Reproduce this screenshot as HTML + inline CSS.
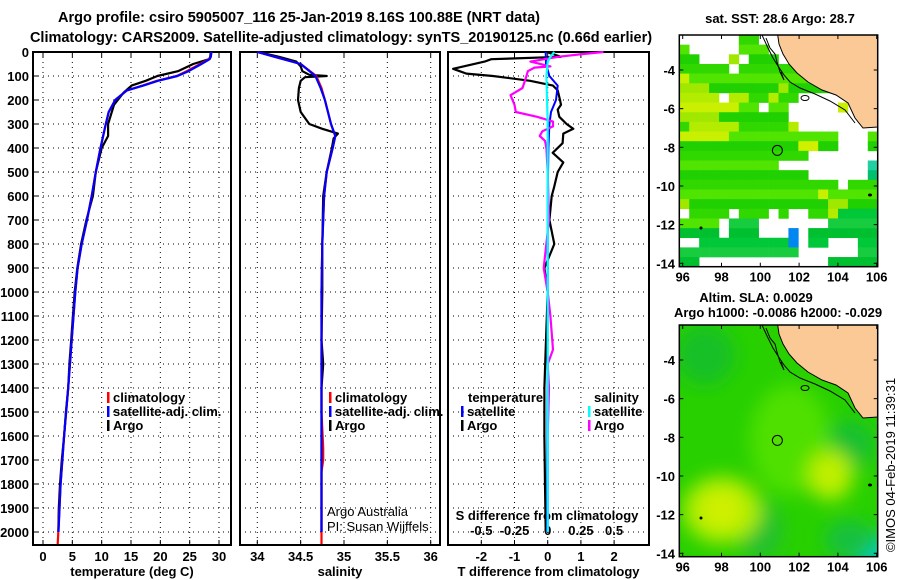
<!DOCTYPE html>
<html><head><meta charset="utf-8"><style>
html,body{margin:0;padding:0;background:#fff}
svg{display:block}
text{font-family:"Liberation Sans",sans-serif;fill:#000}
.b{font-weight:bold;font-size:13px}
.n{font-size:13px}
</style></head><body>
<svg id="fig" width="900" height="580" viewBox="0 0 900 580" xmlns="http://www.w3.org/2000/svg">
<text class="b" x="299" y="22" text-anchor="middle" style="font-size:14.5px">Argo profile: csiro 5905007_116 25-Jan-2019 8.16S 100.88E (NRT data)</text>
<text class="b" x="341" y="42" text-anchor="middle" style="font-size:14.5px">Climatology: CARS2009. Satellite-adjusted climatology: synTS_20190125.nc (0.66d earlier)</text>
<g id="p1"></g>
<g id="p2"></g>
<g id="p3"></g>
<g id="m1"></g>
<g id="m2"></g>
<text class="b" x="780" y="23" text-anchor="middle">sat. SST: 28.6 Argo: 28.7</text>
<text class="b" x="756" y="302" text-anchor="middle">Altim. SLA: 0.0029</text>
<text class="b" x="778" y="317" text-anchor="middle">Argo h1000: -0.0086 h2000: -0.029</text>
<text class="n" transform="translate(895,465) rotate(-90)" text-anchor="middle">©IMOS 04-Feb-2019 11:39:31</text>
<text class="n" x="327" y="516">Argo Australia</text>
<text class="n" x="327" y="531">PI: Susan Wijffels</text>
</svg>
<script>
// ---------- data ----------
const depthTicks=[0,100,200,300,400,500,600,700,800,900,1000,1100,1200,1300,1400,1500,1600,1700,1800,1900,2000];
const tempTicks=[0,5,10,15,20,25,30];
const salTicks=[34,34.5,35,35.5,36];
const salTickLabels=["34","34.5","35","35.5","36"];
const dtTicks=[-2,-1,0,1,2];
const dsTicks=[-0.5,-0.25,0,0.25,0.5];
const dsTickLabels=["-0.5","-0.25","0","0.25","0.5"];

const tArgoDepth=[0,20,30,50,80,100,120,140,170,220,300,350,400,500,600,700,800,900,1000,1100,1200,1300,1400,1500,1600,1700,1800,1900,2000];
const tArgo=[28.6,28.5,28.3,25.6,23.0,19.5,17.5,15.1,13.7,12.1,11.1,11.1,10.0,9.0,8.5,7.4,6.5,5.85,5.4,5.1,4.8,4.5,4.3,3.9,3.6,3.2,2.9,2.7,2.6];
const tClimDepth=[0,20,30,50,80,100,120,140,160,200,250,300,400,500,600,700,800,900,1000,1200,1400,1600,1800,2000,2050];
const tClim=[28.7,28.6,28.3,26.8,24.5,22.8,19.4,17,14.3,12.3,11.2,10.7,9.8,9.0,8.3,7.5,6.6,5.9,5.5,4.9,4.3,3.6,3.0,2.6,2.5];
const tSatDepth=[0,20,30,50,80,100,120,140,160,200,250,300,400,500,600,700,800,900,1000,1200,1400,1600,1800,2000];
const tSat=[28.7,28.6,28.4,27.0,24.8,22.9,19.6,17.1,14.3,12.3,11.2,10.7,9.8,9.0,8.3,7.5,6.6,5.9,5.5,4.9,4.3,3.6,3.0,2.65];

const sArgoDepth=[0,20,40,60,80,95,100,105,120,150,200,250,300,320,340,360,400,500,600,800,1000,1200,1300,1400,1600,2000];
const sArgo=[34.01,34.25,34.45,34.5,34.52,34.6,34.8,34.55,34.5,34.48,34.47,34.5,34.6,34.75,34.93,34.88,34.86,34.8,34.76,34.75,34.75,34.74,34.76,34.74,34.74,34.74];
const sClimDepth=[0,20,50,100,150,200,300,350,400,500,600,800,1000,1500,1650,1700,1750,2000,2050];
const sClim=[34.0,34.2,34.5,34.68,34.74,34.78,34.85,34.9,34.87,34.8,34.77,34.75,34.74,34.74,34.76,34.76,34.74,34.74,34.74];
const sSatDepth=[0,20,50,100,150,200,300,350,400,500,600,800,1000,1500,2000];
const sSat=[34.0,34.2,34.5,34.67,34.73,34.78,34.85,34.9,34.87,34.8,34.77,34.75,34.74,34.74,34.74];

const dTDepth=[0,20,30,40,70,80,90,100,120,140,160,200,220,240,270,300,320,340,380,420,460,500,560,600,700,800,850,900,950,1000,1200,1400,1600,1800,2000];
const dTArgo=[-0.03,0.4,-1.7,-1.9,-2.85,-2.65,-2.45,-1.65,-0.53,0.16,0.3,0.37,0.4,0.3,0.35,0.57,0.77,0.47,0.45,0.15,0.47,0.3,0.2,0.12,0.05,0.2,0.05,-0.1,-0.05,0,-0.05,-0.1,-0.1,-0.08,-0.06];
const dTSatDepth=[0,50,100,140,200,250,300,400,600,1000,2000];
const dTSat=[-0.06,-0.05,0.05,0.3,0.25,0.1,0.05,0.02,0,0,-0.02];
const dSArgoDepth=[0,10,20,40,60,65,80,100,150,180,220,250,270,290,310,330,350,370,400,500,700,900,1000,1100,1240,1300,1400,1600,1800,2000];
const dSArgo=[0.42,0.24,0.08,-0.13,0.02,-0.1,-0.15,-0.16,-0.19,-0.28,-0.25,-0.24,-0.08,0.04,0.04,-0.04,-0.06,-0.02,-0.01,0,0.01,-0.03,0,0.02,0.04,0,0.01,0,0,0];
const dSSatDepth=[0,20,40,100,300,600,1000,2000];
const dSSat=[0.05,0.02,0,-0.01,0,0,0,0];

const latTicks=[-4,-6,-8,-10,-12,-14];
const lonTicks=[96,98,100,102,104,106];
const argoLon=100.88, argoLat=-8.16;
const sstRows=[
"......gg............",
"g.....ggg...........",
"gg...y.ggg..........",
"ggggg.gggggg........",
"ygggggggggggg.......",
"yyygggggggyggggg....",
"yyyy.yyggygg........",
"yyyyyygg.gg.....y...",
"yyyyggggggg.........",
"gyyyyygggggy........",
"yyyyyggggggggggg...g",
"ggggggggggggYYgg...g",
"ggggggggggggg.......",
"gggggggggg.........t",
"ggggggggggggg......t",
"gggggggggggggggg.ggg",
"ggggggggggggggyggggg",
"yggggggggggggggyyggg",
".gggg.ggg.g..ggyGGGG",
"gggg.GGG.......GGGGG",
"GGGG.GGG...B.GGGGGGG",
"..GGGGGGGGGB.GGT..GG",
"GGGGGGGGGGGGTTTTT.GG",
"GGTTTTTTTTTTTTTGGGGG"];

// ---------- helpers ----------
const NS="http://www.w3.org/2000/svg";
function mk(parent,tag,attrs){const e=document.createElementNS(NS,tag);for(const k in attrs)e.setAttribute(k,attrs[k]);parent.appendChild(e);return e;}
const Y0=52, YB=545;
const yD=d=>Y0+d*0.24;
const xT=t=>43+t*5.867;
const xS=s=>257.3+(s-34)*86.7;
const xDT=v=>547.7+v*33.2;
const xDS=v=>547.7+v*132.8;

function panel(g,x0,x1,xticks,xf,labels,xtitle){
  for(const d of depthTicks){const l=mk(g,'line',{x1:x0,x2:x1,y1:yD(d),y2:yD(d),stroke:'#000','stroke-width':1,'stroke-dasharray':'1,4'});
  
  }
  xticks.forEach((v,i)=>{const x=xf(v);
    const l=mk(g,'line',{x1:x,x2:x,y1:Y0,y2:YB,stroke:'#000','stroke-width':1,'stroke-dasharray':'1,4'});
    
    
    mk(g,'line',{x1:x,x2:x,y1:YB-5,y2:YB,stroke:'#000'});
    mk(g,'line',{x1:x,x2:x,y1:Y0,y2:Y0+5,stroke:'#000'});
    if(labels){const t=mk(g,'text',{x:x,y:561,'text-anchor':'middle',class:'b'});t.textContent=labels[i];
    
    }
  });
  const r=mk(g,'rect',{x:x0,y:Y0,width:x1-x0,height:YB-Y0,fill:'none',stroke:'#000','stroke-width':2});
  
  
  const t=mk(g,'text',{x:(x0+x1)/2,y:576,'text-anchor':'middle',class:'b'});t.textContent=xtitle;
  
  
}
function series(g,xs,ds,xf,color,w,name){
  const pts=xs.map((v,i)=>xf(v).toFixed(1)+','+yD(ds[i]).toFixed(1)).join(' ');
  const p=mk(g,'polyline',{points:pts,fill:'none',stroke:color,'stroke-width':w,'stroke-linejoin':'round'});
  
  
}
function legend(g,x,y,color,label){
  mk(g,'rect',{x:x,y:y-10,width:2.5,height:11,fill:color});
  const t=mk(g,'text',{x:x+6,y:y,class:'b'});t.textContent=label;
  
  
}
// ---------- panel 1 ----------
const p1=document.getElementById('p1');
panel(p1,33,231,tempTicks,xT,tempTicks.map(String),'temperature (deg C)');
depthTicks.forEach(d=>{const t=mk(p1,'text',{x:29,y:yD(d)+5,'text-anchor':'end',class:'b'});t.textContent=d;


mk(p1,'line',{x1:33,x2:38,y1:yD(d),y2:yD(d),stroke:'#000'});});
series(p1,tArgo,tArgoDepth,xT,'#000',2.2,'temp-argo-line');
series(p1,tClim,tClimDepth,xT,'#f00',2.2,'temp-climatology-line');
series(p1,tSat,tSatDepth,xT,'#00f',2.2,'temp-satellite-line');
legend(p1,107,402,'#f00','climatology');legend(p1,107,416,'#00f','satellite-adj. clim.');legend(p1,107,430,'#000','Argo');
// ---------- panel 2 ----------
const p2=document.getElementById('p2');
panel(p2,240,440,salTicks,xS,salTickLabels,'salinity');
series(p2,sArgo,sArgoDepth,xS,'#000',2.2,'sal-argo-line');
series(p2,sClim,sClimDepth,xS,'#f00',2.2,'sal-climatology-line');
series(p2,sSat,sSatDepth,xS,'#00f',2.2,'sal-satellite-line');
legend(p2,329,402,'#f00','climatology');legend(p2,329,416,'#00f','satellite-adj. clim.');legend(p2,329,430,'#000','Argo');
// ---------- panel 3 ----------
const p3=document.getElementById('p3');
panel(p3,448,649,dtTicks,xDT,dtTicks.map(String),'T difference from climatology');
dsTicks.forEach((v,i)=>{const t=mk(p3,'text',{x:xDS(v),y:535,'text-anchor':'middle',class:'b'});t.textContent=dsTickLabels[i];

});
{const t=mk(p3,'text',{x:547,y:520,'text-anchor':'middle',class:'b'});t.textContent='S difference from climatology';

}
series(p3,dTArgo,dTDepth,xDT,'#000',2.2,'tdiff-argo-line');
series(p3,dTSat,dTSatDepth,xDT,'#00f',2,'tdiff-satellite-line');
series(p3,dSArgo,dSArgoDepth,xDS,'#f0f',2.2,'sdiff-argo-line');
series(p3,dSSat,dSSatDepth,xDS,'#0ff',2.2,'sdiff-satellite-line');
{const t=mk(p3,'text',{x:468,y:402,class:'b'});t.textContent='temperature';


const u=mk(p3,'text',{x:594,y:402,class:'b'});u.textContent='salinity';

}
legend(p3,461,416,'#00f','satellite');legend(p3,461,430,'#000','Argo');
legend(p3,588,416,'#0ff','satellite');legend(p3,588,430,'#f0f','Argo');
// ---------- maps ----------
const MX0=679.3,MX1=877.7;
const mxL=lon=>682.7+(lon-96)*19.4;
function myL(lat,off){return 70+off+(-4-lat)*19.33;}
const landPts=[[777.7,35],[878,35],[878,127],[863,128],[855,118],[848,103],[836,95],[822,90],[808,82],[797,73],[789,64],[783,54],[779,44]];
function map(g,off,fill){
  const top=35+off,bot=266.7+off;
  const cp=mk(g,'clipPath',{id:'clip'+off});mk(cp,'rect',{x:MX0,y:top,width:MX1-MX0,height:bot-top});
  const inner=mk(g,'g',{'clip-path':'url(#clip'+off+')'});
  fill(inner,top,bot);
  const land=mk(inner,'polygon',{points:landPts.map(p=>p[0]+','+(p[1]+off)).join(' '),fill:'#fbc995',stroke:'#000','stroke-width':1});
  
  
  mk(inner,'polyline',{points:[[762,35],[768,48],[773,58],[778,66],[784,75],[790,82],[800,88],[815,94],[830,101],[845,110],[855,123]].map(p=>p[0]+','+(p[1]+off)).join(' '),fill:'none',stroke:'#000','stroke-width':1});
  mk(inner,'polyline',{points:[[766,38],[770,48],[775,54],[777,62],[780,72],[784,80],[781,72]].map(p=>p[0]+','+(p[1]+off)).join(' '),fill:'none',stroke:'#000','stroke-width':1});
  mk(inner,'ellipse',{cx:805,cy:98+off,rx:4,ry:2.5,fill:'none',stroke:'#000'});
  mk(inner,'ellipse',{cx:870,cy:195+off,rx:2,ry:1.5,fill:'#000'});
  mk(inner,'ellipse',{cx:701,cy:228+off,rx:1.5,ry:1.5,fill:'#000'});
  const c=mk(g,'circle',{cx:mxL(argoLon),cy:myL(argoLat,off),r:5,fill:'none',stroke:'#000','stroke-width':1});
  
  
  const fr=mk(g,'rect',{x:MX0,y:top,width:MX1-MX0,height:bot-top,fill:'none',stroke:'#000','stroke-width':1.5});
  
  
  latTicks.forEach(v=>{const y=myL(v,off);
    mk(g,'line',{x1:MX0,x2:MX0+4,y1:y,y2:y,stroke:'#000'});mk(g,'line',{x1:MX1-4,x2:MX1,y1:y,y2:y,stroke:'#000'});
    const t=mk(g,'text',{x:675,y:y+5,'text-anchor':'end',class:'b'});t.textContent=v;
    
    });
  lonTicks.forEach(v=>{const x=mxL(v);
    mk(g,'line',{x1:x,x2:x,y1:bot-4,y2:bot,stroke:'#000'});mk(g,'line',{x1:x,x2:x,y1:top,y2:top+4,stroke:'#000'});
    const t=mk(g,'text',{x:x,y:bot+15,'text-anchor':'middle',class:'b'});t.textContent=v;
    
    });
}
const pal={y:['#b4ec00','#c8f000','#a0e800'],Y:['#d8f000','#e0ec00','#d0f000'],g:['#30d800','#50e400','#20d000'],G:['#00c838','#18cc40','#00c030'],t:['#00c890','#20d0a0','#00c070'],B:['#0088f0','#0088f0','#0088f0']};
map(document.getElementById('m1'),0,(g,top,bot)=>{
  const cw=(MX1-MX0)/20,ch=(bot-top)/24;
  sstRows.forEach((row,r)=>{for(let c=0;c<20;c++){const k=row[c];if(!pal[k])continue;
    mk(g,'rect',{x:MX0+c*cw,y:top+r*ch,width:cw+0.3,height:ch+0.3,fill:pal[k][(r*7+c*3)%3]});}});
});
map(document.getElementById('m2'),290,(g,top,bot)=>{
  const defs=mk(g,'defs',{});const f=mk(defs,'filter',{id:'blur',x:'-50%',y:'-50%',width:'200%',height:'200%'});mk(f,'feGaussianBlur',{stdDeviation:9});
  mk(g,'rect',{x:MX0,y:top,width:MX1-MX0,height:bot-top,fill:'#28d000'});
  const b=mk(g,'g',{filter:'url(#blur)'});
  mk(b,'ellipse',{cx:705,cy:top+30,rx:30,ry:30,fill:'#18c028'});
  mk(b,'ellipse',{cx:850,cy:top+120,rx:25,ry:25,fill:'#18c030'});
  mk(b,'ellipse',{cx:790,cy:top+115,rx:40,ry:55,fill:'#50e000'});
  mk(b,'ellipse',{cx:760,cy:top+205,rx:22,ry:30,fill:'#20c030'});
  mk(b,'ellipse',{cx:722,cy:top+185,rx:40,ry:34,fill:'#a8ec00'});
  mk(b,'ellipse',{cx:722,cy:top+185,rx:22,ry:20,fill:'#d0f000'});
  mk(b,'ellipse',{cx:830,cy:top+150,rx:24,ry:26,fill:'#a8ec00'});
  mk(b,'ellipse',{cx:830,cy:top+150,rx:12,ry:14,fill:'#c8f000'});
  mk(b,'ellipse',{cx:885,cy:top+235,rx:30,ry:25,fill:'#00ccaa'});
  mk(b,'ellipse',{cx:850,cy:top+215,rx:25,ry:20,fill:'#18c040'});
});
</script>
</body></html>
